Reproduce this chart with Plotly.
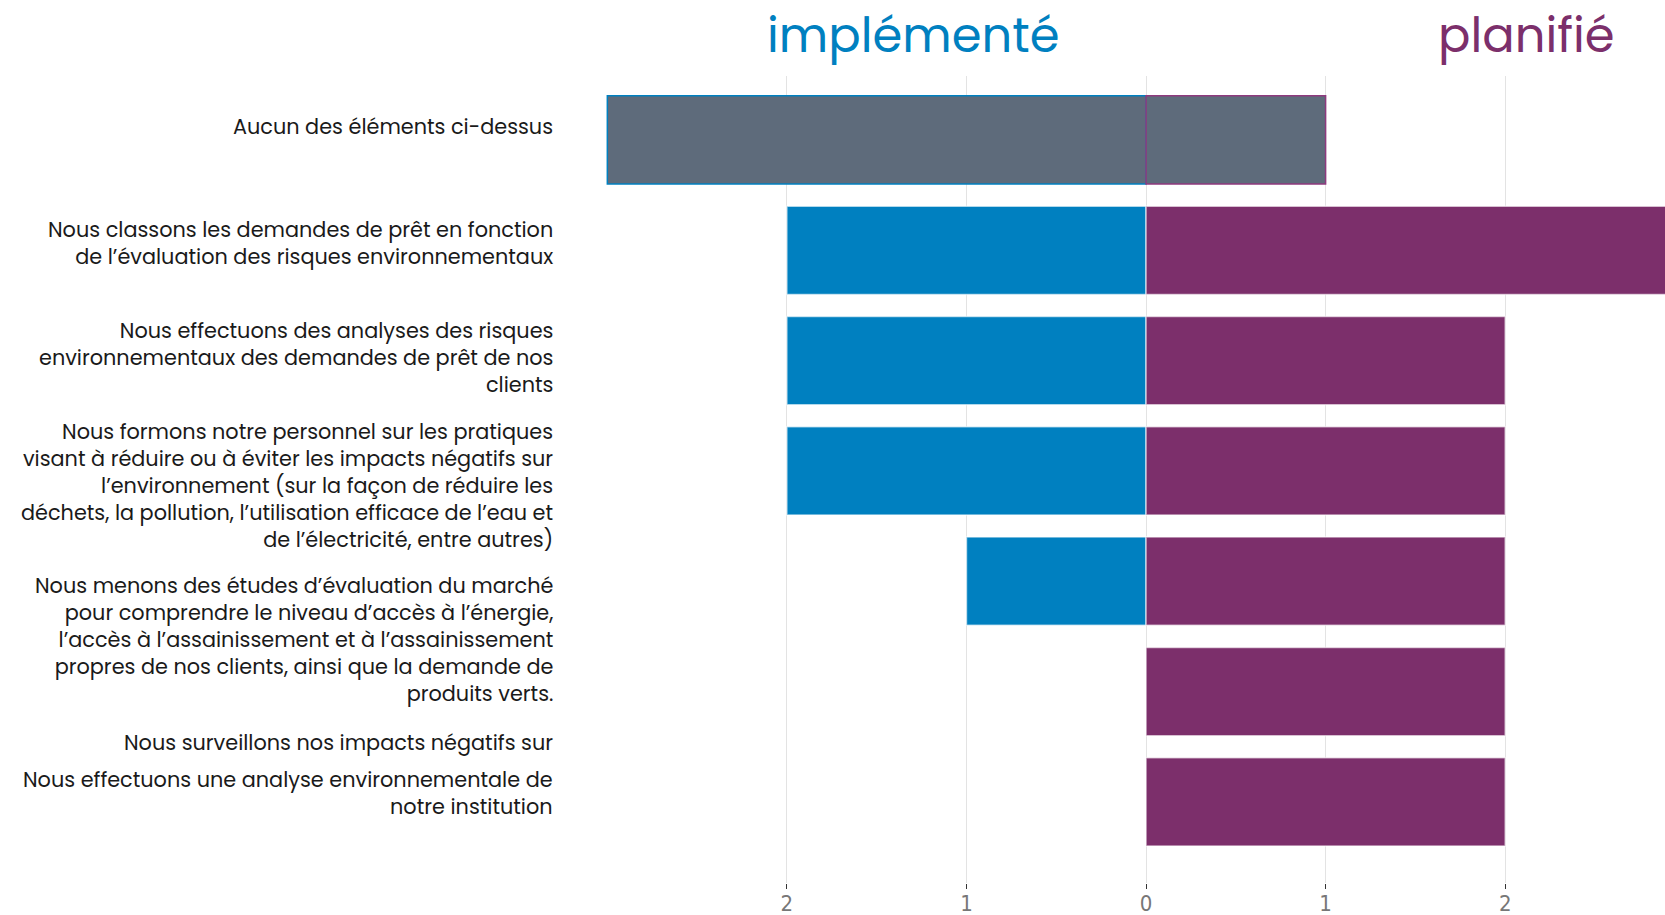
import plotly.graph_objects as go

categories = [
    "Aucun des éléments ci-dessus",
    "Nous classons les demandes de prêt en fonction<br>de l’évaluation des risques environnementaux",
    "Nous effectuons des analyses des risques<br>environnementaux des demandes de prêt de nos<br>clients",
    "Nous formons notre personnel sur les pratiques<br>visant à réduire ou à éviter les impacts négatifs sur<br>l’environnement (sur la façon de réduire les<br>déchets, la pollution, l’utilisation efficace de l’eau et<br>de l’électricité, entre autres)",
    "Nous menons des études d’évaluation du marché<br>pour comprendre le niveau d’accès à l’énergie,<br>l’accès à l’assainissement et à l’assainissement<br>propres de nos clients, ainsi que la demande de<br>produits verts.",
    "Nous surveillons nos impacts négatifs sur",
    "Nous effectuons une analyse environnementale de<br>notre institution",
]
implemente = [3, 2, 2, 2, 1, 0, 0]
planifie = [1, 3, 2, 2, 2, 2, 2]
tick_vals = [-2, -1, 0, 1, 2]
tick_text = ["2", "1", "0", "1", "2"]

BLUE = "#0080C0"
PURPLE = "#7C2F6B"
GREY = "#5E6B7B"
FONT = "Poppins, Lato, Open Sans, sans-serif"

# label vertical offsets (px) relative to the bar centre
label_shift = [13, 7, 3, -15, -58, -51, 9]

idx = list(range(len(categories)))
none_flags = [c.startswith("Aucun") for c in categories]

W, H = 1665, 915
L, R, T, B = 575, 0, 76, 32
pw, ph = W - L - R, H - T - B

fig = go.Figure()
fig.add_trace(go.Bar(
    y=idx, x=[-v for v in implemente], orientation="h", width=0.8,
    marker=dict(color=[GREY if f else BLUE for f in none_flags],
                line=dict(color=[BLUE if f else "rgba(255,255,255,0.6)" for f in none_flags], width=1.5)),
    name="implémenté", hoverinfo="skip",
))
fig.add_trace(go.Bar(
    y=idx, x=planifie, orientation="h", width=0.8,
    marker=dict(color=[GREY if f else PURPLE for f in none_flags],
                line=dict(color=["#8E3A7E" if f else "rgba(255,255,255,0.6)" for f in none_flags], width=1.5)),
    name="planifié", hoverinfo="skip",
))

for i, (c, s) in enumerate(zip(categories, label_shift)):
    fig.add_annotation(
        x=-20 / pw, xref="paper", y=i, yref="y", yshift=s,
        text=c, showarrow=False, xanchor="right", yanchor="middle", align="right",
        font=dict(family=FONT, size=20.8, color="#1a1a1a"),
    )

fig.add_annotation(x=(913 - L) / pw, xref="paper", y=(H - B - 35) / ph, yref="paper",
                   text="implémenté", showarrow=False, xanchor="center", yanchor="middle",
                   font=dict(family=FONT, size=48, color=BLUE))
fig.add_annotation(x=(1526 - L) / pw, xref="paper", y=(H - B - 35) / ph, yref="paper",
                   text="planifié", showarrow=False, xanchor="center", yanchor="middle",
                   font=dict(family=FONT, size=48, color=PURPLE))

fig.update_layout(
    width=W, height=H,
    margin=dict(l=L, r=R, t=T, b=B, autoexpand=False),
    barmode="overlay", showlegend=False,
    plot_bgcolor="white", paper_bgcolor="white",
    font=dict(family=FONT),
    xaxis=dict(range=[-3.18, 2.89], tickvals=tick_vals, ticktext=tick_text,
               showgrid=True, gridcolor="#E3E3E3", gridwidth=1, zeroline=False,
               ticks="outside", ticklen=5, tickcolor="#333", automargin=False,
               ticklabelstandoff=-4,
               tickfont=dict(family="Liberation Sans Narrow, DejaVu Sans Condensed, sans-serif",
                             size=22, color="#777"),
               fixedrange=True),
    yaxis=dict(range=[6.736, -0.58], showticklabels=False, showgrid=False,
               zeroline=False, tickvals=idx, fixedrange=True, automargin=False),
)

fig.write_html("out.html", config={"displayModeBar": False, "staticPlot": True},
               post_script="document.body.style.margin='0';document.body.style.overflow='hidden';")
